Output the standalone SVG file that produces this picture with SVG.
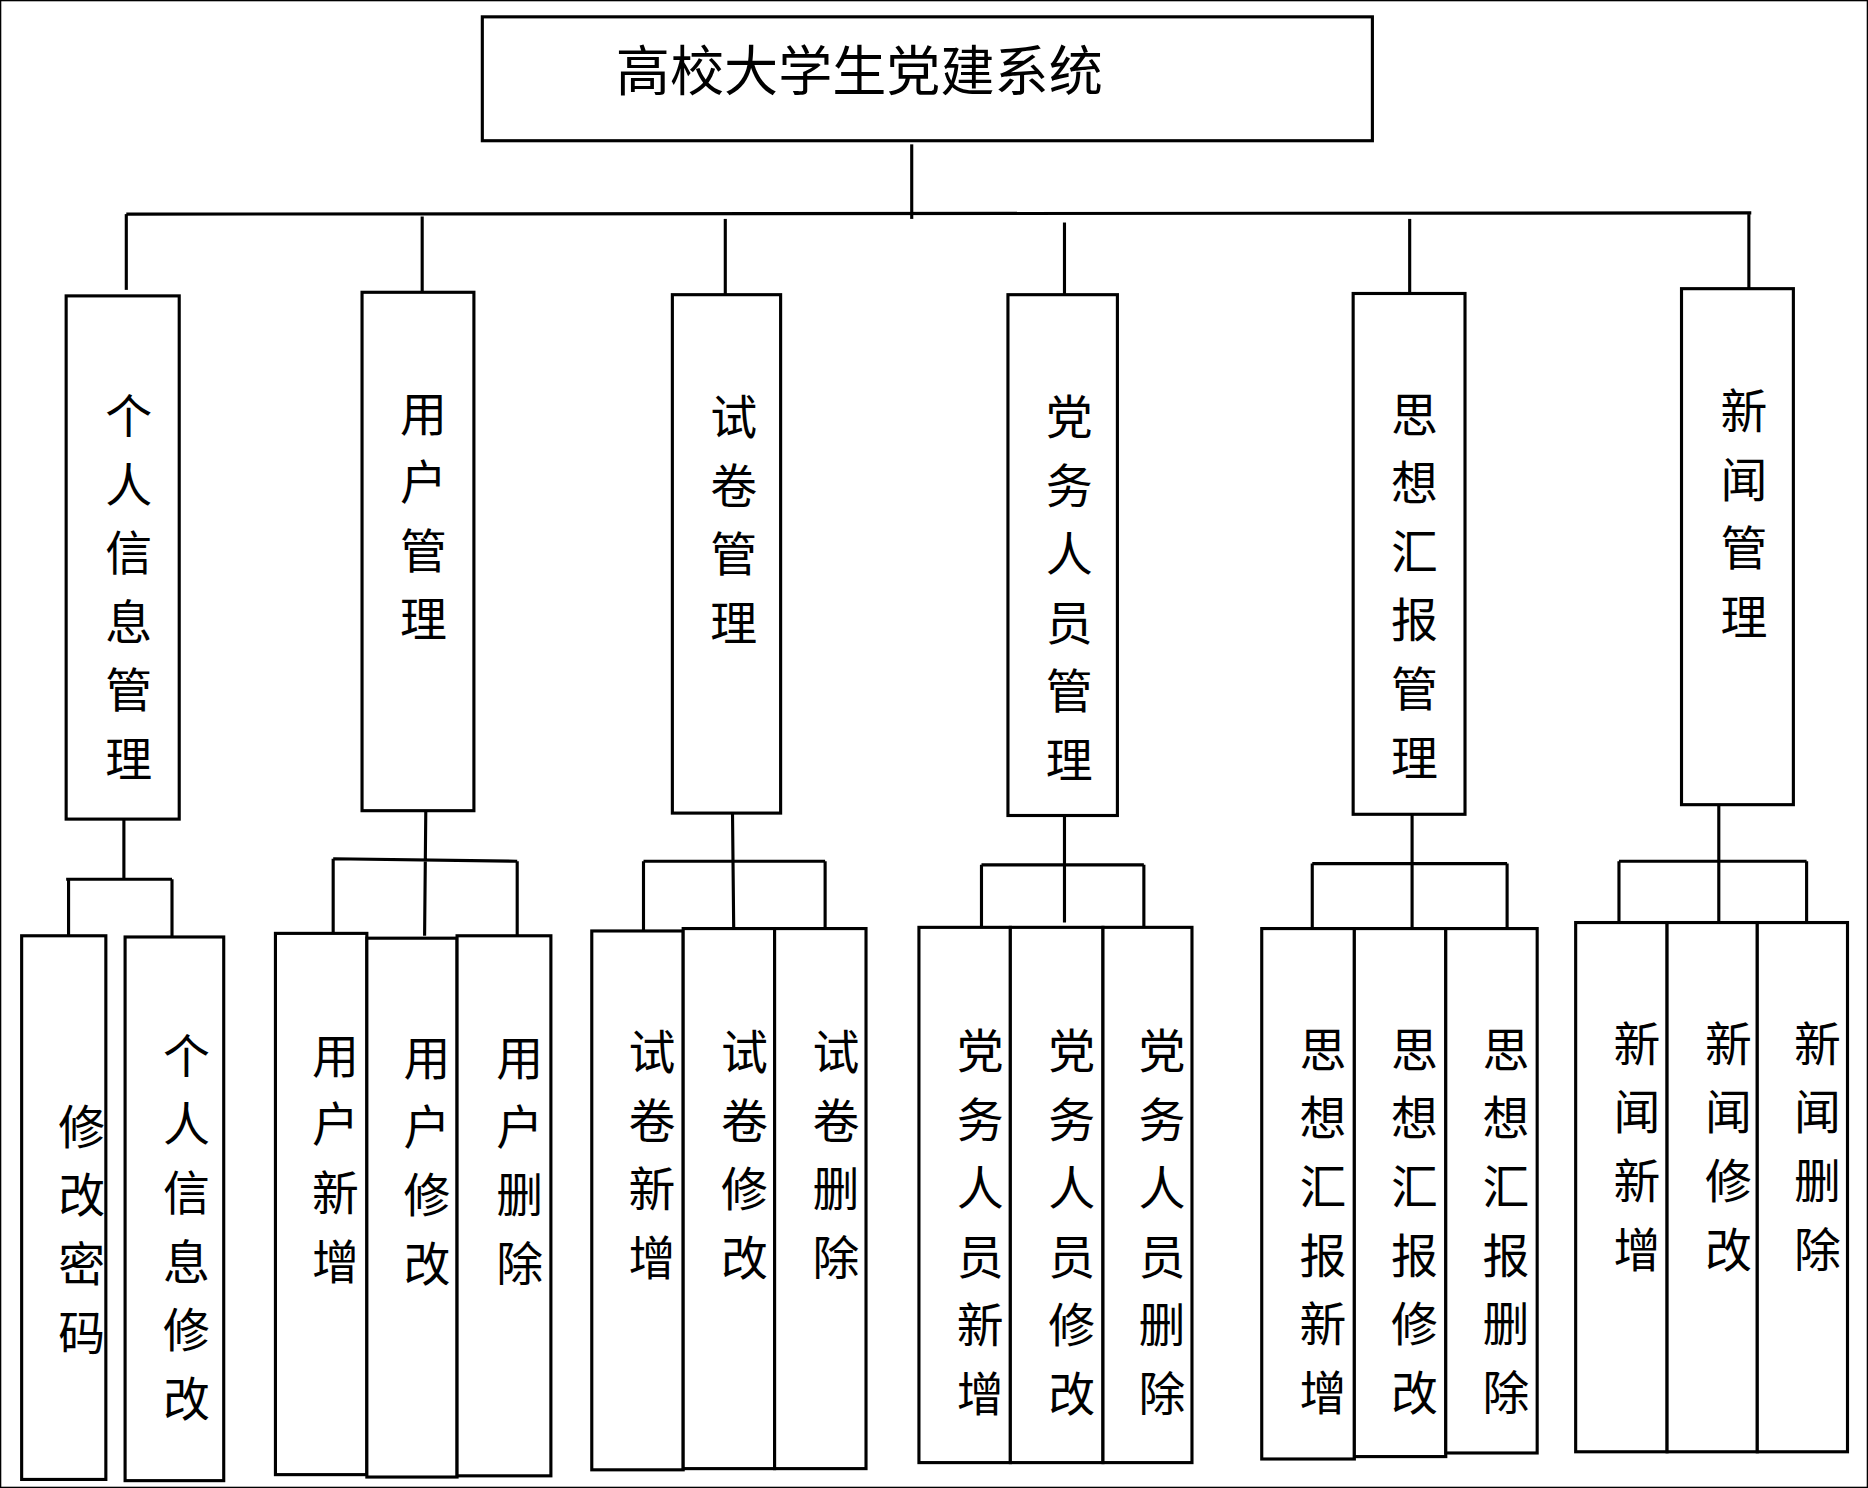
<svg xmlns="http://www.w3.org/2000/svg" width="1868" height="1488" viewBox="0 0 1868 1488">
<style>
rect{fill:#fff;stroke:#000;stroke-width:2.6}
line,path{stroke:#000;stroke-width:2.6;fill:none}
text{font-family:"Noto Sans CJK SC","Liberation Serif",serif;font-size:39px;fill:#000;text-anchor:middle}
.t{font-size:45px;text-anchor:start}
</style>
<rect width="1868" height="1488" fill="#fff" stroke="none"/>
<g transform="scale(1.2028)">
<g id="connectors">
<line x1="758" y1="120" x2="758" y2="182"/>
<line x1="105" y1="178" x2="1456" y2="177"/>
<line x1="105" y1="178" x2="105" y2="241"/>
<line x1="351" y1="180" x2="351" y2="243"/>
<line x1="603" y1="182" x2="603" y2="245"/>
<line x1="885" y1="185" x2="885" y2="245"/>
<line x1="1172" y1="182" x2="1172" y2="244"/>
<line x1="1454" y1="178" x2="1454" y2="240"/>
<path d="M103 681V731M55 731H143M57 731V778M143 731V780"/>
<path d="M354 674L353 778M277 714L430 716M277 714V776M430 716V778"/>
<path d="M609 676L610 772M535 716H686M535 716V774M686 716V772"/>
<path d="M885 678V767M816 719H951M816 719V771M951 719V771"/>
<path d="M1174 677V772M1091 718H1253M1091 718V772M1253 718V772"/>
<path d="M1429 669V767M1346 716H1502M1346 716V767M1502 716V767"/>
</g>
<g id="root"><rect x="401" y="14" width="740" height="103"/><text class="t" x="512" y="76">高校大学生党建系统</text></g>
<g id="n1"><rect x="55" y="246" width="94" height="435"/><text x="107" y="360">个<tspan x="107" dy="57">人</tspan><tspan x="107" dy="57">信</tspan><tspan x="107" dy="57">息</tspan><tspan x="107" dy="57">管</tspan><tspan x="107" dy="57">理</tspan></text></g>
<g id="n2"><rect x="301" y="243" width="93" height="431"/><text x="352" y="358">用<tspan x="352" dy="57">户</tspan><tspan x="352" dy="57">管</tspan><tspan x="352" dy="57">理</tspan></text></g>
<g id="n3"><rect x="559" y="245" width="90" height="431"/><text x="610" y="361">试<tspan x="610" dy="57">卷</tspan><tspan x="610" dy="57">管</tspan><tspan x="610" dy="57">理</tspan></text></g>
<g id="n4"><rect x="838" y="245" width="91" height="433"/><text x="889" y="361">党<tspan x="889" dy="57">务</tspan><tspan x="889" dy="57">人</tspan><tspan x="889" dy="57">员</tspan><tspan x="889" dy="57">管</tspan><tspan x="889" dy="57">理</tspan></text></g>
<g id="n5"><rect x="1125" y="244" width="93" height="433"/><text x="1176" y="359">思<tspan x="1176" dy="57">想</tspan><tspan x="1176" dy="57">汇</tspan><tspan x="1176" dy="57">报</tspan><tspan x="1176" dy="57">管</tspan><tspan x="1176" dy="57">理</tspan></text></g>
<g id="n6"><rect x="1398" y="240" width="93" height="429"/><text x="1450" y="356">新<tspan x="1450" dy="57">闻</tspan><tspan x="1450" dy="57">管</tspan><tspan x="1450" dy="57">理</tspan></text></g>
<g id="n1a"><rect x="18" y="778" width="70" height="452"/><text x="68" y="951">修<tspan x="68" dy="57">改</tspan><tspan x="68" dy="57">密</tspan><tspan x="68" dy="57">码</tspan></text></g>
<g id="n1b"><rect x="104" y="779" width="82" height="452"/><text x="155" y="892">个<tspan x="155" dy="57">人</tspan><tspan x="155" dy="57">信</tspan><tspan x="155" dy="57">息</tspan><tspan x="155" dy="57">修</tspan><tspan x="155" dy="57">改</tspan></text></g>
<g id="n2a"><rect x="229" y="776" width="76" height="450"/><text x="279" y="892">用<tspan x="279" dy="57">户</tspan><tspan x="279" dy="57">新</tspan><tspan x="279" dy="57">增</tspan></text></g>
<g id="n2b"><rect x="305" y="780" width="75" height="448"/><text x="355" y="894">用<tspan x="355" dy="57">户</tspan><tspan x="355" dy="57">修</tspan><tspan x="355" dy="57">改</tspan></text></g>
<g id="n2c"><rect x="380" y="778" width="78" height="449"/><text x="432" y="894">用<tspan x="432" dy="57">户</tspan><tspan x="432" dy="57">删</tspan><tspan x="432" dy="57">除</tspan></text></g>
<g id="n3a"><rect x="492" y="774" width="76" height="448"/><text x="542" y="889">试<tspan x="542" dy="57">卷</tspan><tspan x="542" dy="57">新</tspan><tspan x="542" dy="57">增</tspan></text></g>
<g id="n3b"><rect x="568" y="772" width="76" height="449"/><text x="619" y="889">试<tspan x="619" dy="57">卷</tspan><tspan x="619" dy="57">修</tspan><tspan x="619" dy="57">改</tspan></text></g>
<g id="n3c"><rect x="644" y="772" width="76" height="449"/><text x="695" y="889">试<tspan x="695" dy="57">卷</tspan><tspan x="695" dy="57">删</tspan><tspan x="695" dy="57">除</tspan></text></g>
<g id="n4a"><rect x="764" y="771" width="76" height="445"/><text x="815" y="888">党<tspan x="815" dy="57">务</tspan><tspan x="815" dy="57">人</tspan><tspan x="815" dy="57">员</tspan><tspan x="815" dy="57">新</tspan><tspan x="815" dy="57">增</tspan></text></g>
<g id="n4b"><rect x="840" y="771" width="77" height="445"/><text x="891" y="888">党<tspan x="891" dy="57">务</tspan><tspan x="891" dy="57">人</tspan><tspan x="891" dy="57">员</tspan><tspan x="891" dy="57">修</tspan><tspan x="891" dy="57">改</tspan></text></g>
<g id="n4c"><rect x="917" y="771" width="74" height="445"/><text x="966" y="888">党<tspan x="966" dy="57">务</tspan><tspan x="966" dy="57">人</tspan><tspan x="966" dy="57">员</tspan><tspan x="966" dy="57">删</tspan><tspan x="966" dy="57">除</tspan></text></g>
<g id="n5a"><rect x="1049" y="772" width="77" height="441"/><text x="1100" y="887">思<tspan x="1100" dy="57">想</tspan><tspan x="1100" dy="57">汇</tspan><tspan x="1100" dy="57">报</tspan><tspan x="1100" dy="57">新</tspan><tspan x="1100" dy="57">增</tspan></text></g>
<g id="n5b"><rect x="1126" y="772" width="76" height="439"/><text x="1176" y="887">思<tspan x="1176" dy="57">想</tspan><tspan x="1176" dy="57">汇</tspan><tspan x="1176" dy="57">报</tspan><tspan x="1176" dy="57">修</tspan><tspan x="1176" dy="57">改</tspan></text></g>
<g id="n5c"><rect x="1202" y="772" width="76" height="436"/><text x="1252" y="887">思<tspan x="1252" dy="57">想</tspan><tspan x="1252" dy="57">汇</tspan><tspan x="1252" dy="57">报</tspan><tspan x="1252" dy="57">删</tspan><tspan x="1252" dy="57">除</tspan></text></g>
<g id="n6a"><rect x="1310" y="767" width="76" height="440"/><text x="1361" y="882">新<tspan x="1361" dy="57">闻</tspan><tspan x="1361" dy="57">新</tspan><tspan x="1361" dy="57">增</tspan></text></g>
<g id="n6b"><rect x="1386" y="767" width="75" height="440"/><text x="1437" y="882">新<tspan x="1437" dy="57">闻</tspan><tspan x="1437" dy="57">修</tspan><tspan x="1437" dy="57">改</tspan></text></g>
<g id="n6c"><rect x="1461" y="767" width="75" height="440"/><text x="1511" y="882">新<tspan x="1511" dy="57">闻</tspan><tspan x="1511" dy="57">删</tspan><tspan x="1511" dy="57">除</tspan></text></g>
</g>
</svg>
